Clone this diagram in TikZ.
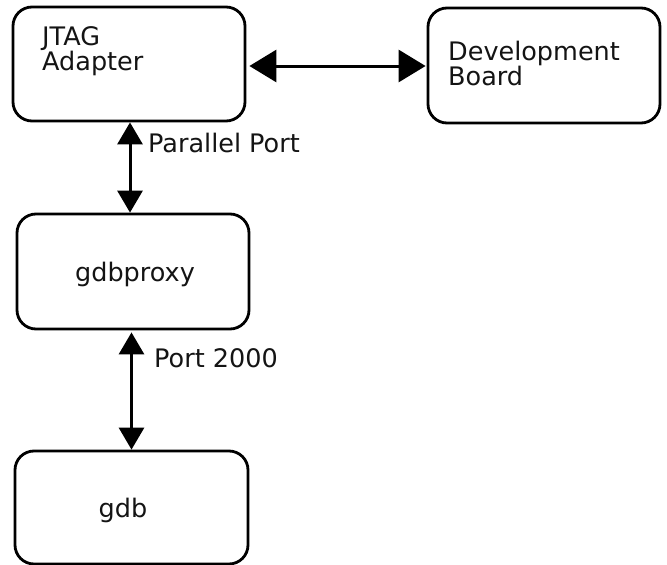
\documentclass[tikz,border=0pt]{standalone}
\usepackage{fontspec}
\setmainfont{DejaVu Sans}
\usetikzlibrary{arrows.meta}
\begin{document}
\begin{tikzpicture}[x=1pt,y=-1pt,
  box/.style={draw=black, line width=2.8pt, rounded corners=19pt, fill=white, inner sep=0pt},
  lbl/.style={inner sep=0pt, font=\fontsize{25.5}{30}\selectfont, text=black!92},
  bigarrow/.style={line width=3pt, {Triangle[length=27pt,width=32pt]}-{Triangle[length=27pt,width=32pt]}},
  varrow/.style={line width=3pt, {Triangle[length=22pt,width=25pt]}-{Triangle[length=22pt,width=25pt]}}]
\useasboundingbox[fill=white] (0,0) rectangle (667,565);
\node[box, minimum width=232pt, minimum height=114pt] (jtag) at (129,64) {};
\node[box, minimum width=232pt, minimum height=115pt] (dev) at (544,65.5) {};
\node[box, minimum width=232pt, minimum height=115pt] (proxy) at (133,271.5) {};
\node[box, minimum width=233pt, minimum height=113pt] (gdb) at (131.5,507.5) {};
\node[lbl, anchor=base west] (jtag1) at (42,45) {JTAG};
\node[lbl, anchor=base west] (jtag2) at (42,70) {Adapter};
\node[lbl, anchor=base west] (dev1) at (448,60) {Development};
\node[lbl, anchor=base west] (dev2) at (448,85) {Board};
\node[lbl, anchor=base] (proxyl) at (135,281) {gdbproxy};
\node[lbl, anchor=base] (gdbl) at (123,517) {gdb};
\node[lbl, anchor=base west] (pp) at (148,152) {Parallel Port};
\node[lbl, anchor=base west] (p2k) at (154,367) {Port 2000};
\coordinate (hy) at (0,66);
\draw[bigarrow] (jtag.east |- hy) ++(3,0) coordinate (ha) -- ([xshift=-1pt]dev.west |- hy);
\coordinate (v1) at (130,0);
\draw[varrow] (v1 |- jtag.south) -- (v1 |- proxy.north);
\coordinate (v2) at (131.5,0);
\draw[varrow] (v2 |- proxy.south) ++(0,2) -- (v2 |- gdb.north);
\end{tikzpicture}
\end{document}
